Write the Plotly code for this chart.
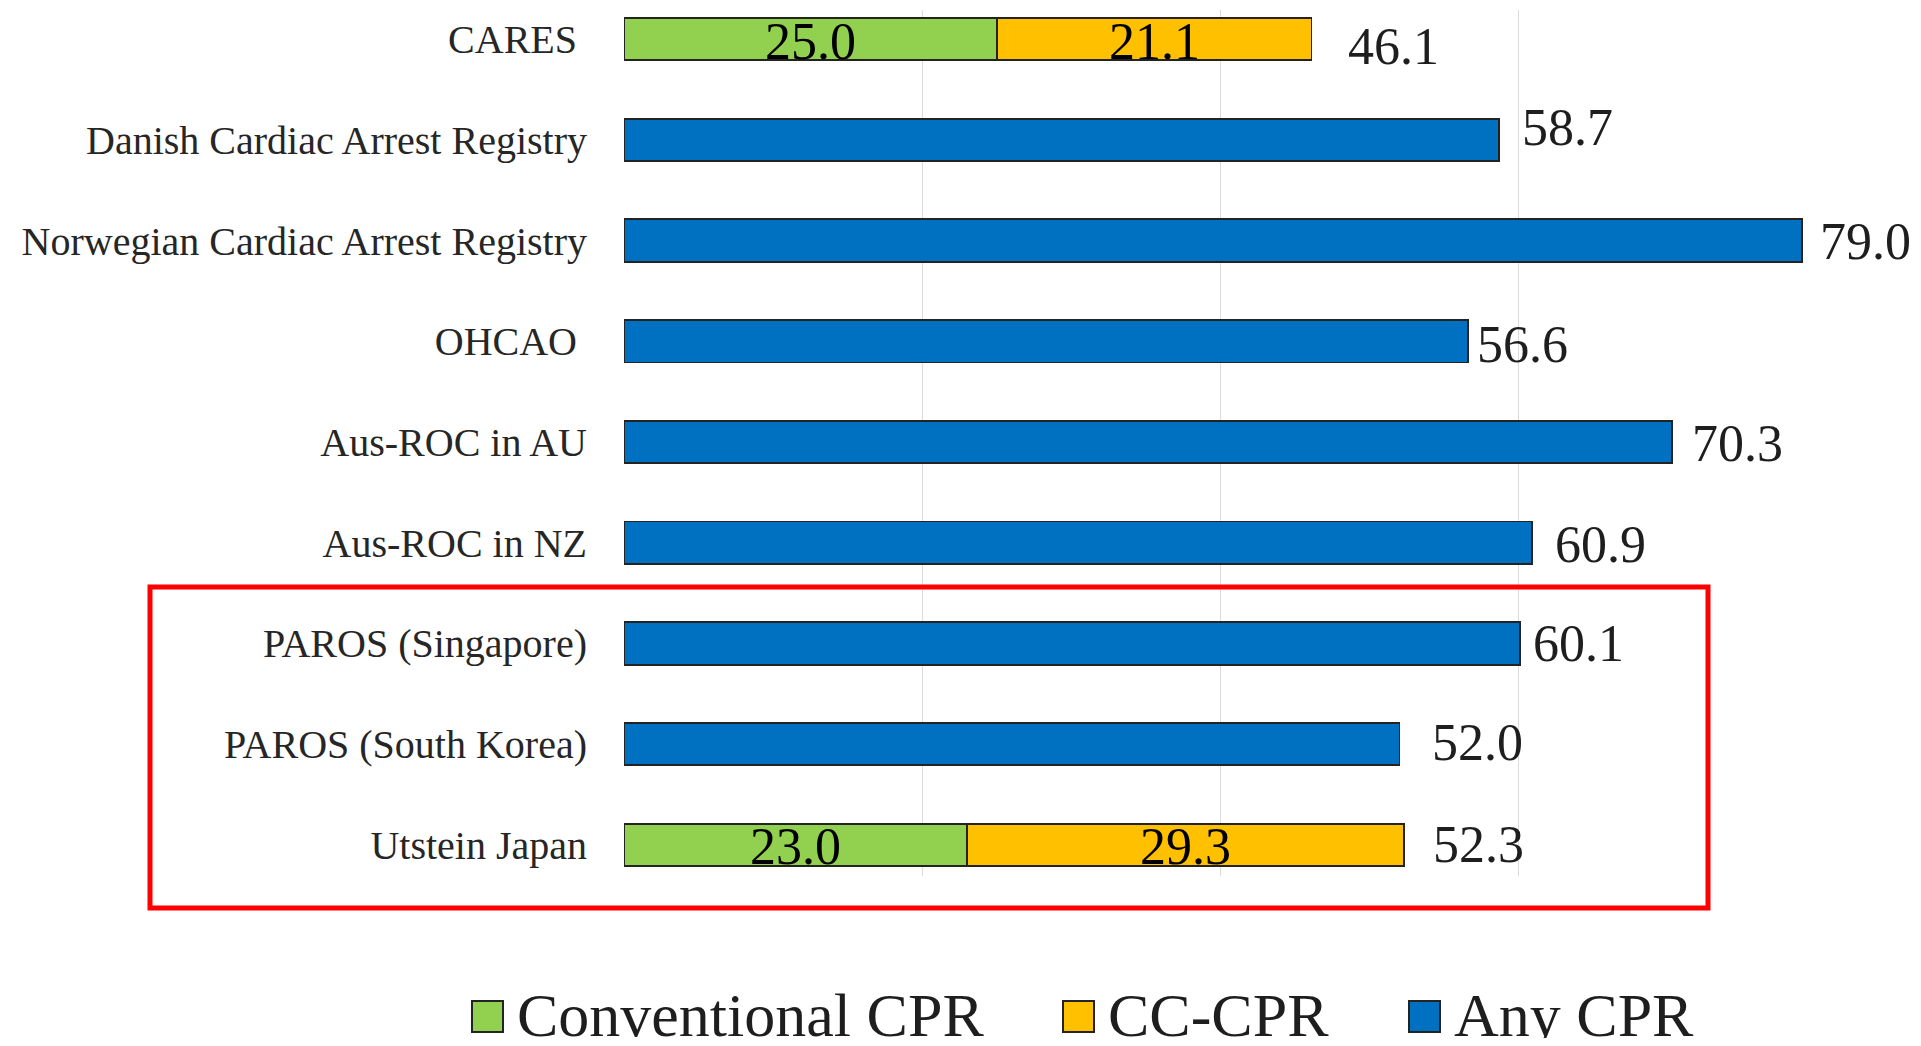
import plotly.graph_objects as go

# ---------------- data ----------------
categories = [
    "CARES\u00a0",
    "Danish Cardiac Arrest Registry",
    "Norwegian Cardiac Arrest Registry",
    "OHCAO\u00a0",
    "Aus-ROC in AU",
    "Aus-ROC in NZ",
    "PAROS (Singapore)",
    "PAROS (South Korea)",
    "Utstein Japan",
]
conventional_cpr = [25.0, None, None, None, None, None, None, None, 23.0]
cc_cpr = [21.1, None, None, None, None, None, None, None, 29.3]
any_cpr = [None, 58.7, 79.0, 56.6, 70.3, 60.9, 60.1, 52.0, None]
totals = [46.1, 58.7, 79.0, 56.6, 70.3, 60.9, 60.1, 52.0, 52.3]
series_names = ["Conventional CPR", "CC-CPR", "Any CPR"]

# ---------------- style ----------------
FONT = "Liberation Serif"
GREEN = "#92D050"
ORANGE = "#FFC000"
BLUE = "#0070C0"
EDGE = "rgb(35,35,35)"
OFF = 8  # default body margin of the html page
W, H = 1921 - 2 * OFF, 1046 - 2 * OFF
ML, MT = 624 - OFF, 10 - OFF
MR = W - (1817 - OFF)
MB = H - (876 - OFF)
BAR_W = 0.42
# hand-placed data-label nudges (pixels: right, down), as in the source figure
LABEL_NUDGE = [(19, 4), (5, -15), (0, -2), (-9, 0), (2, -1), (5, -1), (-5, -3), (15, -5), (11, -3)]

fig = go.Figure()
for name, vals, col in zip(series_names, [conventional_cpr, cc_cpr, any_cpr], [GREEN, ORANGE, BLUE]):
    fig.add_trace(go.Bar(
        y=categories, x=vals, orientation="h", name=name,
        marker=dict(color=col, line=dict(color=EDGE, width=1.8)),
        width=BAR_W, showlegend=False, hoverinfo="x+name",
    ))

annotations = []
# inside labels of stacked segments
for i, cat in enumerate(categories):
    base = 0.0
    for vals in (conventional_cpr, cc_cpr):
        v = vals[i]
        if v is None:
            continue
        annotations.append(dict(
            x=base + v / 2, y=cat, xref="x", yref="y", text=f"{v:.1f}",
            showarrow=False, font=dict(family=FONT, size=52, color="#000000"),
            xanchor="center", yanchor="middle", yshift=-2,
        ))
        base += v
# totals outside
for cat, t, (dx, dy) in zip(categories, totals, LABEL_NUDGE):
    annotations.append(dict(
        x=t, y=cat, xref="x", yref="y", text=f"{t:.1f}", showarrow=False,
        font=dict(family=FONT, size=52, color="#1e1e1e"),
        xanchor="left", yanchor="middle", xshift=16 + dx, yshift=-3 - dy,
    ))

# page px -> paper helpers (plot area)
PW = W - ML - MR
PH = H - MT - MB
def px_x(px):
    return (px - OFF - ML) / PW
def px_y(py):
    return (H - MB - (py - OFF)) / PH

shapes = []
# custom legend (large symbols)
legend_items = [(472, 518, GREEN), (1063, 1109, ORANGE), (1409, 1455, BLUE)]
for (sx, tx, col), name in zip(legend_items, series_names):
    shapes.append(dict(
        type="rect", xref="paper", yref="paper",
        x0=px_x(sx), x1=px_x(sx + 31), y0=px_y(1001), y1=px_y(1032),
        fillcolor=col, line=dict(color=EDGE, width=2),
    ))
    annotations.append(dict(
        x=px_x(tx - 3), y=px_y(1015), xref="paper", yref="paper", text=name,
        showarrow=False, font=dict(family=FONT, size=62, color="#1e1e1e"),
        xanchor="left", yanchor="middle",
    ))

# red highlight rectangle
shapes.append(dict(
    type="rect", xref="paper", yref="paper",
    x0=px_x(150), x1=px_x(1708), y0=px_y(908), y1=px_y(587),
    line=dict(color="#FF0000", width=5), fillcolor="rgba(0,0,0,0)",
))

fig.update_layout(
    width=W, height=H,
    margin=dict(l=ML, r=MR, t=MT, b=MB, pad=0),
    barmode="stack",
    plot_bgcolor="white", paper_bgcolor="white",
    font=dict(family=FONT, color="#262626"),
    showlegend=False,
    annotations=annotations,
    shapes=shapes,
    xaxis=dict(
        range=[0, 80], dtick=20, showgrid=True, gridcolor="#DCDCDC", gridwidth=1.2,
        showticklabels=False, zeroline=False, showline=False, ticks="",
    ),
    yaxis=dict(
        type="category", categoryorder="array", categoryarray=categories,
        range=[8.308, -0.288], showgrid=False, zeroline=False, showline=False,
        ticks="", ticklabelstandoff=36,
        tickfont=dict(family=FONT, size=40, color="#262626"),
    ),
)

fig.write_html("out.html")
